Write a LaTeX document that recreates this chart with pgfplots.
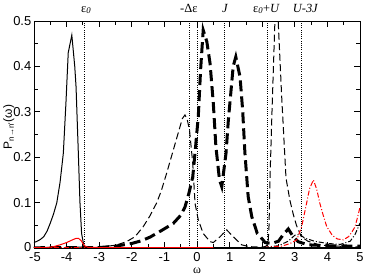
\documentclass[border=0pt]{standalone}
\usepackage{fontspec}
\setmainfont{Liberation Serif}
\newfontfamily\sansf{Liberation Sans}
\usepackage{pgfplots}
\pgfplotsset{compat=1.18}
\begin{document}
\begin{tikzpicture}
\useasboundingbox (-34bp,-31bp) rectangle (332bp,248bp);
\begin{axis}[
  scale only axis, width=326bp, height=227bp,
  xmin=-5, xmax=5, ymin=0, ymax=0.5,
  xtick={-5,-4,-3,-2,-1,0,1,2,3,4,5},
  xticklabels={\hspace*{2bp}-5,-4,-3,-2,-1,0,1,2,3,4,5},
  ytick={0,0.1,0.2,0.3,0.4,0.5},
  yticklabels={\raisebox{3bp}{0},0.1,0.2,0.3,0.4,0.5},
  minor x tick num=1, minor y tick num=1,
  tick align=inside, tick pos=both,
  major tick length=6bp, minor tick length=4bp,
  every tick/.style={line width=0.8bp, black},
  axis line style={line width=0.9bp},
  tick label style={font=\sansf\fontsize{13}{13}\selectfont},
  xticklabel style={inner sep=0bp, yshift=-4bp},
  yticklabel style={inner sep=0bp, xshift=-2.5bp},
  clip mode=individual,
]
% reference lines
\addplot[black, line width=0.7bp, dash pattern=on 0.7bp off 1.5bp] coordinates {(-3.45,0) (-3.45,0.5)};
\addplot[black, line width=0.7bp, dash pattern=on 0.7bp off 1.5bp] coordinates {(-0.22,0) (-0.22,0.5)};
\addplot[black, line width=0.7bp, dash pattern=on 0.7bp off 1.5bp] coordinates {(0.02,0) (0.02,0.5)};
\addplot[black, line width=0.7bp, dash pattern=on 0.7bp off 1.5bp] coordinates {(0.83,0) (0.83,0.5)};
\addplot[black, line width=0.7bp, dash pattern=on 0.7bp off 1.5bp] coordinates {(2.16,0) (2.16,0.5)};
\addplot[black, line width=0.7bp, dash pattern=on 0.7bp off 1.5bp] coordinates {(3.21,0) (3.21,0.5)};
% thick dashed
\addplot[black, line width=3bp, dash pattern=on 11bp off 5bp] coordinates {
(-5,0.0005) (-3,0.001) (-2.5,0.004) (-2.0,0.01) (-1.7,0.016) (-1.44,0.024)
(-1.1,0.038) (-0.73,0.054) (-0.5,0.072) (-0.37,0.09) (-0.25,0.12) (-0.13,0.157)
(-0.06,0.21) (0.04,0.29) (0.11,0.392) (0.19,0.48) (0.3,0.455) (0.40,0.407)
(0.5,0.319) (0.58,0.223) (0.69,0.15) (0.76,0.135) (0.89,0.209) (0.96,0.28)
(1.11,0.40) (1.19,0.421) (1.32,0.377) (1.40,0.304) (1.47,0.209) (1.57,0.113)
(1.68,0.069) (1.85,0.032) (2.0,0.02) (2.09,0.012) (2.3,0.01) (2.5,0.015)
(2.65,0.03) (2.8,0.042) (2.95,0.025) (3.1,0.014) (3.4,0.007) (4.0,0.005) (5.0,0.004)};
% thin dashed
\addplot[black, line width=1bp, dash pattern=on 7bp off 3.5bp] coordinates {
(-5,0.001) (-3,0.002) (-2.5,0.006) (-2.16,0.014) (-1.9,0.025) (-1.65,0.047)
(-1.45,0.07) (-1.24,0.099) (-1.1,0.125) (-0.93,0.165) (-0.75,0.21) (-0.55,0.26)
(-0.45,0.285) (-0.37,0.293) (-0.3,0.283) (-0.23,0.26) (-0.13,0.186) (-0.06,0.098)
(0.04,0.062) (0.19,0.032) (0.4,0.014) (0.5,0.012) (0.71,0.025) (0.91,0.04)
(1.11,0.025) (1.37,0.007) (1.6,0.003) (1.9,0.002) (2.1,0.003) (2.18,0.01)
(2.21,0.05) (2.24,0.154) (2.3,0.3) (2.39,0.5) (2.44,0.58) (2.49,0.5)
(2.6,0.33) (2.73,0.154) (2.85,0.105) (2.95,0.075) (3.05,0.05) (3.2,0.025)
(3.4,0.015) (3.7,0.008) (4.0,0.005) (5.0,0.002)};
% black dash-dot
\addplot[black, line width=1bp, dash pattern=on 5bp off 2bp on 1bp off 2bp] coordinates {
(-5,0.001) (2.0,0.001) (2.5,0.005) (2.8,0.015) (3.0,0.028) (3.15,0.03)
(3.3,0.022) (3.6,0.015) (4.0,0.01) (4.4,0.008) (4.7,0.015) (4.85,0.03) (5.0,0.055)};
% red dash-dot
\addplot[red, line width=1bp, dash pattern=on 5bp off 2bp on 1bp off 2bp] coordinates {
(-5,0.0008) (2.0,0.001) (2.6,0.004) (2.86,0.01) (3.06,0.018) (3.21,0.047)
(3.36,0.098) (3.45,0.13) (3.57,0.15) (3.67,0.13) (3.77,0.098) (3.88,0.07)
(3.98,0.047) (4.15,0.028) (4.3,0.02) (4.49,0.018) (4.65,0.025) (4.75,0.035)
(4.85,0.047) (4.95,0.075) (5.0,0.09)};
% solid black
\addplot[black, line width=1bp] coordinates {
(-5.0,0.012) (-4.9,0.015) (-4.8,0.019) (-4.7,0.025) (-4.6,0.037) (-4.5,0.055)
(-4.4,0.075) (-4.3,0.100) (-4.2,0.145) (-4.1,0.209) (-4.02,0.32) (-3.95,0.43)
(-3.84,0.469) (-3.75,0.40) (-3.71,0.355) (-3.64,0.209) (-3.59,0.10) (-3.54,0.032)
(-3.47,0.005) (-3.4,0.001) (-3.0,0.001) (5.0,0.001)};
% solid red
\addplot[red, line width=1bp] coordinates {
(-5,0.0008) (-4.6,0.001) (-4.4,0.003) (-4.2,0.007) (-4.0,0.012) (-3.85,0.017)
(-3.72,0.021) (-3.63,0.021) (-3.55,0.016) (-3.5,0.01) (-3.45,0.005) (-3.35,0.0015)
(-3.0,0.001) (0.5,0.001)};
% top labels
\node[anchor=base, font=\fontsize{12.5}{13}\selectfont] at ([yshift=9bp]axis cs:-3.4,0.5) {ε\textsubscript{\itshape 0}};
\node[anchor=base, font=\fontsize{12.5}{13}\selectfont] at ([yshift=9bp]axis cs:-0.25,0.5) {-Δε};
\node[anchor=base, font=\fontsize{12.5}{13}\selectfont] at ([yshift=9bp]axis cs:0.86,0.5) {\textit{J}};
\node[anchor=base, font=\fontsize{12.5}{13}\selectfont] at ([yshift=9bp]axis cs:2.13,0.5) {ε\textsubscript{\itshape 0}+\textit{U}};
\node[anchor=base, font=\fontsize{12.5}{13}\selectfont] at ([yshift=9bp]axis cs:3.33,0.5) {\textit{U-3J}};
% axis labels
\node[anchor=base, inner sep=0pt, font=\fontsize{12}{12}\selectfont] at ([yshift=-25bp]axis description cs:0.5,0) {ω};
\node[anchor=base, rotate=90, font=\sansf\fontsize{12}{13}\selectfont] at ([xshift=-22bp]axis description cs:0,0.533) {P\textsubscript{n→n'}(ω)};
\end{axis}
\end{tikzpicture}
\end{document}
